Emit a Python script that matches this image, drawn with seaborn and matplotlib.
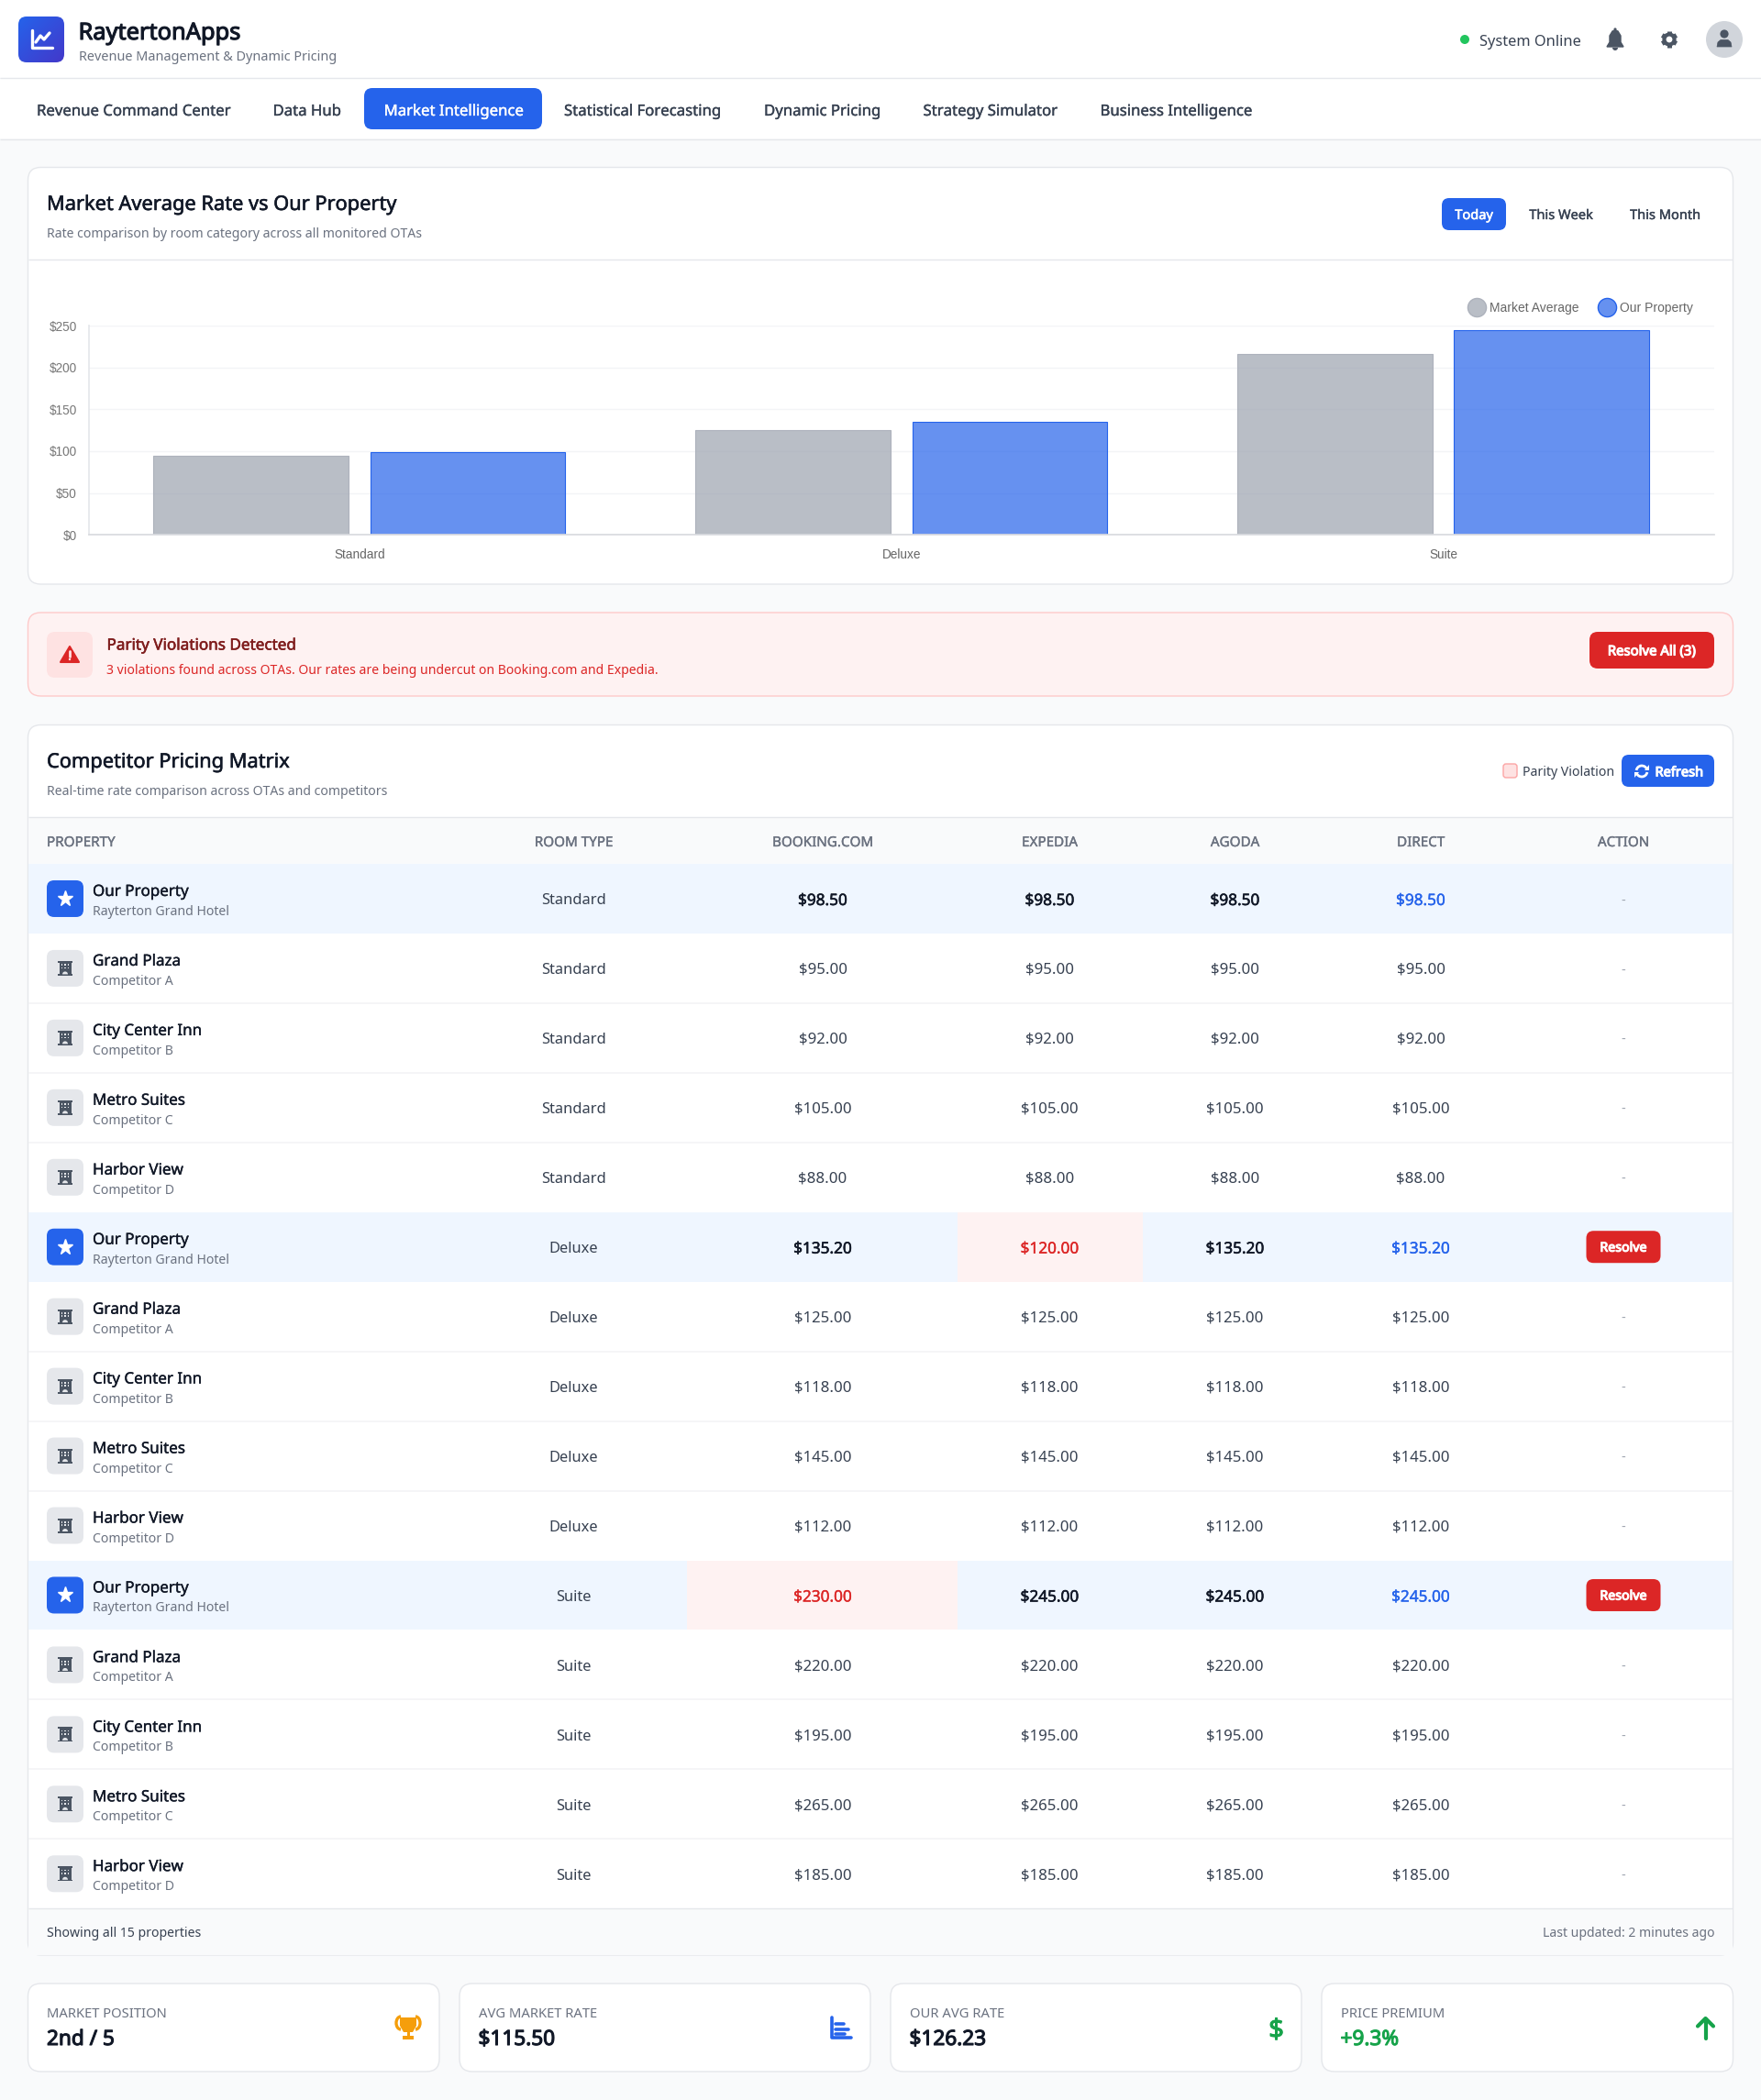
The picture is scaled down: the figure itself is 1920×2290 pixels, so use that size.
import numpy as np
import pandas as pd
import matplotlib
matplotlib.use('Agg')
import matplotlib.pyplot as plt
import matplotlib.patheffects as pe
import seaborn as sns
from matplotlib.lines import Line2D
from matplotlib.patches import Arc, Circle, FancyBboxPatch, Polygon, Rectangle, Wedge

# Chart data
room_types = ['Standard', 'Deluxe', 'Suite']
market_average = [95.0, 125.0, 216.25]
our_property = [98.5, 135.2, 245.0]
y_ticks = [0, 50, 100, 150, 200, 250]

# Pricing matrix data
hotel_names = ['Our Property', 'Grand Plaza', 'City Center Inn', 'Metro Suites', 'Harbor View']
hotel_subs = ['Rayterton Grand Hotel', 'Competitor A', 'Competitor B', 'Competitor C', 'Competitor D']
standard_rates = [98.50, 95.00, 92.00, 105.00, 88.00]
deluxe_rates = [135.20, 125.00, 118.00, 145.00, 112.00]
suite_rates = [245.00, 220.00, 195.00, 265.00, 185.00]
table_headers = ['BOOKING.COM', 'EXPEDIA', 'AGODA', 'DIRECT']
violations = {('Deluxe', 'EXPEDIA'): 120.00, ('Suite', 'BOOKING.COM'): 230.00}

nav_items = ['Revenue Command Center', 'Data Hub', 'Market Intelligence', 'Statistical Forecasting',
             'Dynamic Pricing', 'Strategy Simulator', 'Business Intelligence']
kpi_labels = ['MARKET POSITION', 'AVG MARKET RATE', 'OUR AVG RATE', 'PRICE PREMIUM']
kpi_values = ['2nd / 5', '$115.50', '$126.23', '+9.3%']

BLUE = '#2563eb'
RED = '#dc2626'
DARK = '#111827'
TEXT = '#374151'
MUTED = '#6b7280'
LINE = '#e5e7eb'
GREEN = '#16a34a'
ICON = '#4b5563'
# Noto Sans only resolves to one face here, so heavier text gets a thin outline
STROKE = {'normal': 0, 'medium': 0.25, 'semibold': 0.4, 'bold': 0.8}

sns.set_theme(style='white')
plt.rcParams['font.family'] = ['Noto Sans', 'DejaVu Sans']

fig = plt.figure(figsize=(19.2, 22.9), dpi=100, facecolor='#f9fafb')

# Page layer, in pixels from the top left
bg = fig.add_axes([0, 0, 1, 1], zorder=0)
bg.set_xlim(0, 1920)
bg.set_ylim(2290, 0)
bg.axis('off')


def rbox(x0, y0, x1, y1, r=0, fc='white', ec='none', lw=1.0, z=1):
    p = FancyBboxPatch((x0 + r, y0 + r), x1 - x0 - 2 * r, y1 - y0 - 2 * r,
                       boxstyle=f'round,pad={r},rounding_size={r}' if r else 'square,pad=0',
                       fc=fc, ec=ec, lw=lw, zorder=z)
    bg.add_patch(p)
    return p


def txt(x, y, s, px, color=TEXT, weight='normal', ha='left', z=5):
    t = bg.text(x, y, s, fontsize=px * 0.72, color=color, ha=ha, va='center_baseline', zorder=z)
    if STROKE[weight]:
        t.set_path_effects([pe.withStroke(linewidth=STROKE[weight], foreground=color)])
    return t


def hline(y, x0, x1, color=LINE, lw=1.0, z=3):
    bg.plot([x0, x1], [y, y], color=color, lw=lw, zorder=z, solid_capstyle='butt')


# Header
rbox(0, 0, 1920, 85, fc='white')
hline(85, 0, 1920)
rbox(0, 86, 1920, 151, fc='white')
hline(151.5, 0, 1920)

logo = rbox(20, 18, 70, 68, r=9, fc='none')
grad = np.linspace(0, 1, 60)
im = bg.imshow(np.add.outer(grad, grad) / 2, extent=(20, 70, 68, 18), aspect='auto', zorder=2,
               cmap=matplotlib.colors.LinearSegmentedColormap.from_list('logo', [BLUE, '#4338ca']))
im.set_clip_path(logo)
bg.set_xlim(0, 1920)
bg.set_ylim(2290, 0)
bg.plot([35, 35, 57], [33, 52, 52], color='white', lw=2.4, zorder=3, solid_joinstyle='round')
bg.plot([39, 44, 48, 54], [46, 39, 43, 36], color='white', lw=2.4, zorder=3)

txt(85.5, 33.5, 'RaytertonApps', 25.4, DARK, 'bold')
txt(85.5, 61, 'Revenue Management & Dynamic Pricing', 14.45, MUTED)

bg.add_patch(Circle((1597, 43), 5, fc='#22c55e', ec='none', zorder=3))
txt(1613, 44, 'System Online', 16.4, TEXT)

# Bell
bg.add_patch(Polygon([(1752, 51), (1755, 46), (1755, 39), (1758, 34), (1761, 33), (1764, 34), (1767, 39),
                      (1767, 46), (1770, 51)], closed=True, fc=ICON, ec=ICON, lw=1, zorder=3))
bg.add_patch(Wedge((1761, 52), 3, 0, 180, fc=ICON, ec='none', zorder=3))
bg.add_patch(Circle((1761, 32), 1.6, fc=ICON, ec='none', zorder=3))
# Gear
for a in (0, 60, 120):
    dx, dy = 9 * np.cos(np.radians(a + 30)), 9 * np.sin(np.radians(a + 30))
    bg.plot([1820 - dx, 1820 + dx], [43 - dy, 43 + dy], color=ICON, lw=3.6, zorder=3, solid_capstyle='butt')
bg.add_patch(Circle((1820, 43), 7.6, fc=ICON, ec='none', zorder=3))
bg.add_patch(Circle((1820, 43), 3.4, fc='white', ec='none', zorder=4))
# Avatar
bg.add_patch(Circle((1880, 43), 20, fc='#d1d5db', ec='none', zorder=3))
bg.add_patch(Circle((1880, 37), 4.6, fc=ICON, ec='none', zorder=4))
bg.add_patch(Polygon([(1872, 51), (1873, 46), (1876, 43.5), (1884, 43.5), (1887, 46), (1888, 51)],
                     closed=True, fc=ICON, ec=ICON, lw=0.5, zorder=4))

# Navigation
nav_x = [40, 297.5, 494.5, 615, 833, 1006.5, 1199.5]
rbox(397, 96, 591, 141, r=9, fc=BLUE)
for i, item in enumerate(nav_items):
    active = item == 'Market Intelligence'
    txt(nav_x[i], 120, item, 16.75, 'white' if active else TEXT, 'medium', ha='center' if active else 'left')

# Chart card
rbox(30.5, 182.5, 1889.5, 637, r=14, ec=LINE)
hline(283, 31, 1889)
txt(51, 221, 'Market Average Rate vs Our Property', 21.8, DARK, 'semibold')
txt(51, 253.5, 'Rate comparison by room category across all monitored OTAs', 14.1, MUTED)
rbox(1572, 216, 1642, 251, r=8, fc=BLUE)
txt(1607, 233.5, 'Today', 14.6, 'white', 'semibold', ha='center')
txt(1702, 233.5, 'This Week', 14.6, TEXT, 'medium', ha='center')
txt(1815.5, 233.5, 'This Month', 14.6, TEXT, 'medium', ha='center')

# Bar chart through seaborn
chart_df = pd.DataFrame({
    'room': room_types * 2,
    'rate': market_average + our_property,
    'series': ['Market Average'] * 3 + ['Our Property'] * 3,
})
ax_left, ax_right, ax_top, ax_bottom = 96.5, 1869, 355, 583.3
ax = fig.add_axes([ax_left / 1920, 1 - ax_bottom / 2290, (ax_right - ax_left) / 1920, (ax_bottom - ax_top) / 2290],
                  zorder=2, facecolor='none')
series_fill = {'Market Average': (156 / 255, 163 / 255, 175 / 255, 0.7), 'Our Property': (37 / 255, 99 / 255, 235 / 255, 0.7)}
series_edge = {'Market Average': '#adb2bc', 'Our Property': BLUE}
sns.barplot(data=chart_df, x='room', y='rate', hue='series', order=room_types, width=0.8, gap=0.1,
            palette={k: v[:3] for k, v in series_fill.items()}, saturation=1, legend=False, ax=ax)
for container, name in zip(ax.containers, series_fill):
    for bar in container:
        bar.set_facecolor(series_fill[name])
        bar.set_edgecolor(series_edge[name])
        bar.set_linewidth(0.8)
ax.set_ylim(0, 250)
ax.set_xlim(-0.5, 2.5)
ax.set_xlabel('')
ax.set_ylabel('')
ax.set_yticks(y_ticks)
ax.set_yticklabels([f'${v}' for v in y_ticks], fontsize=9.8, color='#777777', family='Liberation Sans')
ax.tick_params(axis='x', length=0, pad=10.5, labelsize=9.8, labelcolor='#666666')
ax.tick_params(axis='y', length=7, width=1, color='#f0f1f3', pad=2)
for lab in ax.get_xticklabels():
    lab.set_family('Liberation Sans')
ax.grid(axis='y', color='#f3f4f6', lw=1)
ax.set_axisbelow(True)
sns.despine(ax=ax, top=True, right=True)
ax.spines['left'].set_color(LINE)
ax.spines['bottom'].set_color('#d9dbdf')
legend_handles = [Line2D([], [], ls='', marker='o', ms=14.5, mfc=series_fill[k], mec=series_edge[k], mew=1)
                  for k in series_fill]
ax.legend(legend_handles, list(series_fill), loc='center right', frameon=False, ncol=2,
          bbox_to_anchor=(1846 / 1920, 1 - 336 / 2290), bbox_transform=fig.transFigure,
          prop={'family': 'Liberation Sans', 'size': 10}, labelcolor='#666666',
          handletextpad=0.28, columnspacing=1.4, handlelength=1.5, borderpad=0, borderaxespad=0)

# Parity alert
rbox(30.5, 668, 1889.5, 759, r=14, fc='#fef2f2', ec='#fecaca')
rbox(51, 689, 101, 739, r=9, fc='#fee2e2')
bg.add_patch(Polygon([(76, 705), (86, 722), (66, 722)], closed=True, fc=RED, ec=RED, lw=1.5, joinstyle='round', zorder=3))
bg.plot([76, 76], [710, 716], color='#fee2e2', lw=2, zorder=4)
bg.add_patch(Circle((76, 719), 1.2, fc='#fee2e2', ec='none', zorder=4))
txt(116.5, 702.5, 'Parity Violations Detected', 17.1, '#7f1d1d', 'semibold')
txt(116.5, 729.5, '3 violations found across OTAs. Our rates are being undercut on Booking.com and Expedia.', 14.0, RED)
rbox(1733, 689, 1869, 729, r=9, fc=RED)
txt(1801, 709, 'Resolve All (3)', 14.9, 'white', 'bold', ha='center')

# Matrix card
matrix_top, head_line, head_bottom, row_h = 790.5, 891, 942, 75.95
footer_top, card_bottom = 2081.3, 2132
rbox(30.5, matrix_top, 1889.5, card_bottom, r=14, ec=LINE)
txt(51, 829, 'Competitor Pricing Matrix', 21.8, DARK, 'semibold')
txt(51, 861.5, 'Real-time rate comparison across OTAs and competitors', 14.05, MUTED)
rbox(1639, 833, 1654, 848, r=3, fc='#fee2e2', ec='#fca5a5')
txt(1660, 841, 'Parity Violation', 14.1, TEXT)
rbox(1768, 823, 1869, 858, r=8, fc=BLUE)
bg.add_patch(Arc((1790, 841), 12, 12, angle=0, theta1=190, theta2=340, color='white', lw=2, zorder=3))
bg.add_patch(Arc((1790, 841), 12, 12, angle=0, theta1=10, theta2=160, color='white', lw=2, zorder=3))
bg.add_patch(Polygon([(1793, 840), (1798, 840), (1798, 834)], closed=True, fc='white', ec='none', zorder=3))
bg.add_patch(Polygon([(1782, 842), (1787, 842), (1782, 848)], closed=True, fc='white', ec='none', zorder=3))
txt(1804.5, 841, 'Refresh', 14.6, 'white', 'bold')

rbox(31, head_line, 1889, head_bottom, fc='#f9fafb', z=2)
hline(head_line, 31, 1889)
col_x = {'BOOKING.COM': 897, 'EXPEDIA': 1144.5, 'AGODA': 1346.5, 'DIRECT': 1549}
cell_edges = {'BOOKING.COM': (749, 1044), 'EXPEDIA': (1044, 1246)}
header_y = 917.5
txt(51, header_y, 'PROPERTY', 15.2, MUTED, 'medium')
txt(625.5, header_y, 'ROOM TYPE', 15.2, MUTED, 'medium', ha='center')
for name in table_headers:
    txt(col_x[name], header_y, name, 15.2, MUTED, 'medium', ha='center')
txt(1770, header_y, 'ACTION', 15.2, MUTED, 'medium', ha='center')


def hotel_icon(cx, cy):
    bg.add_patch(Rectangle((cx - 6.5, cy - 7.5), 13, 15, fc=ICON, ec='none', zorder=4))
    bg.add_patch(Rectangle((cx - 8, cy - 8), 16, 2, fc=ICON, ec='none', zorder=4))
    bg.add_patch(Rectangle((cx - 8, cy + 6.5), 16, 1.5, fc=ICON, ec='none', zorder=4))
    for dx in (-3.6, 0, 3.6):
        for dy in (-3.8, -0.4):
            bg.add_patch(Rectangle((cx + dx - 0.9, cy + dy - 0.9), 1.8, 1.8, fc='#e5e7eb', ec='none', zorder=5))
    bg.add_patch(Wedge((cx, cy + 6.5), 3, 180, 360, fc='#e5e7eb', ec='none', zorder=5))


row = 0
for room, rates in zip(room_types, [standard_rates, deluxe_rates, suite_rates]):
    for h, (name, sub, rate) in enumerate(zip(hotel_names, hotel_subs, rates)):
        top = head_bottom + row * row_h
        cy = top + row_h / 2
        ours = h == 0
        if ours:
            rbox(31, top, 1889, top + row_h, fc='#eff6ff', z=2)
            rbox(51, cy - 20, 91, cy + 20, r=8, fc=BLUE, z=3)
            bg.plot([71], [cy], marker='*', ms=12.5, mfc='white', mec='white', mew=1, zorder=4)
        else:
            rbox(51, cy - 20, 91, cy + 20, r=8, fc=LINE, z=3)
            hotel_icon(71, cy)
        if row > 0 and not ours and h > 1:
            hline(top, 31, 1889, color='#f3f4f6', lw=1.2)
        txt(101, cy - 9, name, 17, DARK, 'medium')
        txt(101, cy + 12.5, sub, 14.1, MUTED)
        txt(625.5, cy + 0.5, room, 16.5, TEXT, ha='center')
        resolve = False
        for col in table_headers:
            value, color, weight, size = rate, TEXT, 'normal', 16.8
            if ours:
                color, weight, size = DARK, 'semibold', 17.2
                if col == 'DIRECT':
                    color, weight = BLUE, 'medium'
                if (room, col) in violations:
                    value, color, weight = violations[(room, col)], RED, 'medium'
                    x0, x1 = cell_edges[col]
                    rbox(x0, top, x1, top + row_h, fc='#fef2f2', z=2.5)
                    resolve = True
            txt(col_x[col], cy, f'${value:.2f}', size, color, weight, ha='center')
        if resolve:
            rbox(1729.5, cy - 17.5, 1810.5, cy + 17.5, r=8, fc=RED, z=3)
            txt(1770, cy - 0.5, 'Resolve', 14.2, 'white', 'bold', ha='center')
        else:
            txt(1770, cy + 1, '-', 14.5, '#9ca3af', ha='center')
        row += 1

rbox(31, footer_top, 1889, card_bottom - 0.5, fc='#f9fafb', z=2)
hline(footer_top, 31, 1889)
txt(51, 2107, 'Showing all 15 properties', 14.05, TEXT)
txt(1869, 2107, 'Last updated: 2 minutes ago', 14.0, MUTED, ha='right')

# KPI cards
kpi_x = [(30.5, 479), (501, 949), (971, 1419), (1441, 1889.5)]
for (x0, x1), label, value in zip(kpi_x, kpi_labels, kpi_values):
    rbox(x0, 2163, x1, 2259, r=14, ec=LINE)
    txt(x0 + 20.5, 2194.5, label, 14.8, MUTED)
    txt(x0 + 20.5, 2222, value, 22.6, GREEN if value.startswith('+') else DARK, 'bold')

# Trophy
AMBER = '#f59e0b'
bg.add_patch(Polygon([(436, 2200), (454, 2200), (454, 2209), (450, 2216), (440, 2216), (436, 2209)],
                     closed=True, fc=AMBER, ec='none', zorder=3))
bg.add_patch(Arc((437, 2206), 10, 14, theta1=90, theta2=270, color=AMBER, lw=2.4, zorder=3))
bg.add_patch(Arc((453, 2206), 10, 14, theta1=-90, theta2=90, color=AMBER, lw=2.4, zorder=3))
bg.add_patch(Rectangle((443.5, 2215), 3, 5, fc=AMBER, ec='none', zorder=3))
bg.add_patch(Rectangle((439, 2219.5), 12, 4, fc=AMBER, ec='none', zorder=3))
# Small bars icon
bg.plot([906.5, 906.5, 928], [2200, 2222, 2222], color=BLUE, lw=2.6, zorder=3)
for y, x1 in zip((2207, 2212.5, 2218), (920, 925, 921)):
    bg.plot([911, x1], [y, y], color=BLUE, lw=2.6, zorder=3)
# Dollar and arrow
txt(1391.5, 2211.5, '$', 29, GREEN, 'bold', ha='center')
bg.plot([1859.5, 1859.5], [2202, 2223], color=GREEN, lw=3, zorder=3)
bg.plot([1851, 1859.5, 1868], [2209.5, 2201, 2209.5], color=GREEN, lw=3, zorder=3)

fig.savefig('out.png', dpi=100, facecolor=fig.get_facecolor())
